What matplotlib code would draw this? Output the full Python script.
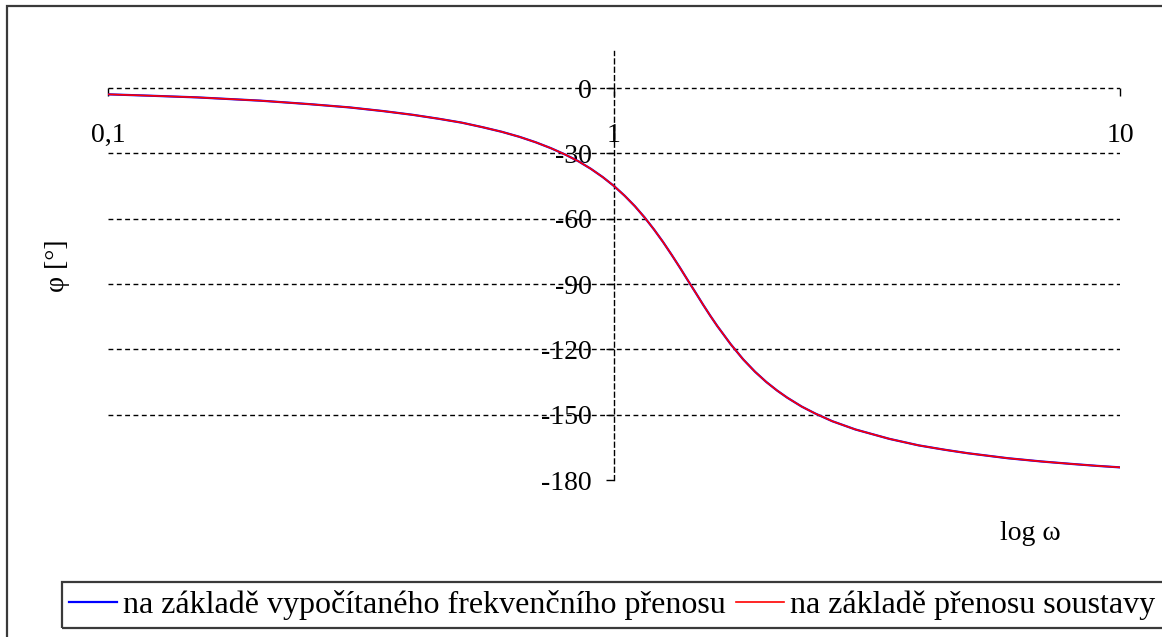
import matplotlib
matplotlib.use("Agg")
import matplotlib.pyplot as plt
from matplotlib.patches import Rectangle

# ---- data ----
omega = [0.1, 0.12, 0.15, 0.2, 0.25, 0.3, 0.35, 0.4, 0.45, 0.5, 0.55, 0.6, 0.65,
         0.7, 0.75, 0.8, 0.85, 0.9, 0.95, 1.0, 1.05, 1.1, 1.15, 1.2, 1.25, 1.3,
         1.35, 1.4, 1.45, 1.5, 1.55, 1.6, 1.7, 1.8, 1.9, 2.0, 2.1, 2.2, 2.35,
         2.5, 2.7, 3.0, 3.5, 4.0, 4.5, 5.0, 6.0, 7.0, 8.0, 9.0, 10.0]
phase_calc = [-2.9, -3.5, -4.3, -5.8, -7.4, -8.9, -10.6, -12.3, -14.1, -15.9,
              -18.0, -20.1, -22.4, -24.9, -27.6, -30.5, -33.6, -37.1, -40.9,
              -45.0, -49.5, -54.3, -59.5, -65.0, -70.7, -76.6, -82.5, -88.4,
              -94.0, -99.5, -104.6, -109.3, -117.6, -124.6, -130.3, -135.0,
              -138.9, -142.2, -146.3, -149.5, -153.0, -156.8, -161.1, -164.1,
              -166.1, -167.7, -170.0, -171.5, -172.6, -173.5, -174.2]
phase_sys = [-2.9, -3.5, -4.3, -5.8, -7.4, -8.9, -10.6, -12.3, -14.1, -15.9,
             -18.0, -20.1, -22.4, -24.9, -27.6, -30.5, -33.6, -37.1, -40.9,
             -45.0, -49.5, -54.3, -59.5, -65.0, -70.7, -76.6, -82.5, -88.4,
             -94.0, -99.5, -104.6, -109.3, -117.6, -124.6, -130.3, -135.0,
             -138.9, -142.2, -146.3, -149.5, -153.0, -156.8, -161.1, -164.1,
             -166.1, -167.7, -170.0, -171.5, -172.6, -173.5, -174.2]
x_ticks = [0.1, 1, 10]
x_ticklabels = ["0,1", "1", "10"]
y_ticks = [0, -30, -60, -90, -120, -150, -180]
y_ticklabels = ["0", "-30", "-60", "-90", "-120", "-150", "-180"]
legend_labels = ["na základě vypočítaného frekvenčního přenosu",
                 "na základě přenosu soustavy"]

plt.rcParams['font.family'] = ['Liberation Serif', 'DejaVu Serif']

W, H = 1162, 637
fig = plt.figure(figsize=(W / 100, H / 100), dpi=100)
fig.patch.set_facecolor('white')

# outer frame
fig.add_artist(Rectangle((7 / W, -0.02), 1.05, 1 - 6 / H + 0.02,
                         transform=fig.transFigure, fill=False,
                         lw=1.6, ec='#3a3a3a'))
# legend frame (runs past the right edge as in the reference)
fig.add_artist(Rectangle((62 / W, 1 - 628 / H), 1.05, 46 / H,
                         transform=fig.transFigure, fill=False,
                         lw=1.6, ec='#3a3a3a'))

ax = fig.add_axes([108 / W, 1 - 480 / H, 1012 / W, 429 / H])
ax.set_xscale('log')
ax.set_xlim(0.1, 10)
ax.set_ylim(-180, 17)
ax.patch.set_alpha(0)

for s in ['top', 'right']:
    ax.spines[s].set_visible(False)
ax.spines['bottom'].set_position(('data', 0))
ax.spines['bottom'].set_visible(False)
ax.spines['left'].set_position(('data', 1))
ax.spines['left'].set_linestyle((0, (3.5, 2.5)))
ax.spines['left'].set_linewidth(1.0)
ax.spines['left'].set_color('black')

# horizontal dashed grid
for v in y_ticks[:-1]:
    ax.axhline(v, color='black', lw=1.0, dashes=(3.5, 2.5), zorder=1)

ax.set_xticks(x_ticks)
ax.set_xticklabels(x_ticklabels)
ax.xaxis.set_minor_locator(matplotlib.ticker.NullLocator())
ax.tick_params(axis='x', direction='out', length=6, width=1, pad=19,
               labelsize=20, colors='black')
ax.set_yticks(y_ticks)
ax.set_yticklabels(y_ticklabels)
ax.tick_params(axis='y', direction='out', length=6, width=1, pad=10,
               labelsize=20, colors='black')

ax.plot(omega, phase_calc, color='#0000ff', lw=1.6, zorder=3, label=legend_labels[0])
ax.plot(omega, phase_sys, color='#ff0000', lw=1.2, zorder=4, label=legend_labels[1])

fig.text(57 / W, 1 - 266 / H, "φ [°]", rotation=90, ha='center', va='center',
         fontsize=20)
fig.text(1030 / W, 1 - 534 / H, "log ω", ha='center', va='center', fontsize=20)

leg = fig.legend(loc='center left', bbox_to_anchor=(69 / W, 1 - 605 / H),
                 ncol=2, fontsize=23, frameon=False,
                 handlelength=1.5, handletextpad=0.2, borderpad=0.0,
                 borderaxespad=0, columnspacing=0.3)

fig.savefig("out.png", dpi=100)
